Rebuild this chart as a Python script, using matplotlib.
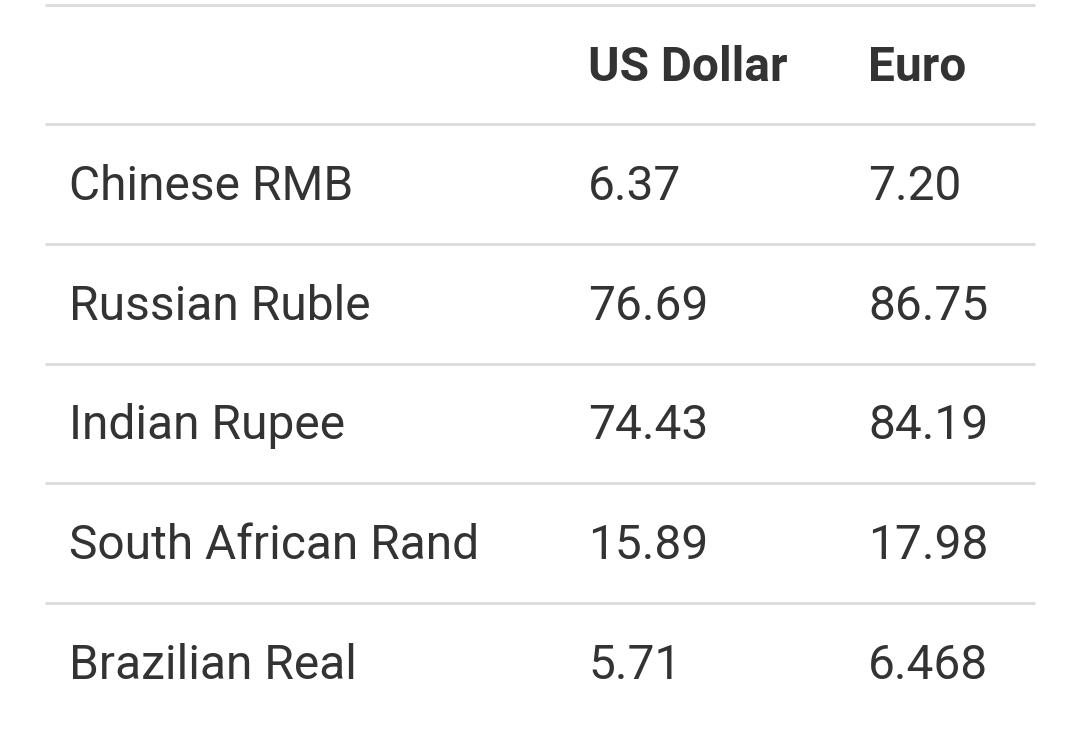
import matplotlib
matplotlib.use("Agg")
from matplotlib import pyplot as plt

currencies = ["Chinese RMB", "Russian Ruble", "Indian Rupee", "South African Rand", "Brazilian Real"]
usd = ["6.37", "76.69", "74.43", "15.89", "5.71"]
eur = ["7.20", "86.75", "84.19", "17.98", "6.468"]
headers = ["", "US Dollar", "Euro"]

plt.rcParams["font.family"] = ["Roboto", "DejaVu Sans"]

fig = plt.figure(figsize=(10.8, 7.4), dpi=100)
ax = fig.add_axes([0, 0, 1, 1])
ax.set_xlim(0, 1080)
ax.set_ylim(740, 0)
ax.axis("off")

text_color = "#333333"
line_color = "#dddddd"
col_x = [69, 588, 868]
row_h = 119.7
top = 4.5

# horizontal rules
for i in range(len(currencies) + 1):
    y = top + i * row_h
    ax.plot([45, 1035], [y, y], color=line_color, lw=2.2, solid_capstyle="butt")

# header
for x, h in zip(col_x, headers):
    ax.text(x, 81, h, fontsize=34.5, fontweight="bold", color=text_color, va="baseline")

# body
for i, (name, u, e) in enumerate(zip(currencies, usd, eur)):
    base = 200 + i * row_h
    for x, val in zip(col_x, [name, u, e]):
        ax.text(x, base, val, fontsize=34.5, color=text_color, va="baseline")

fig.savefig("out.png", dpi=100)
